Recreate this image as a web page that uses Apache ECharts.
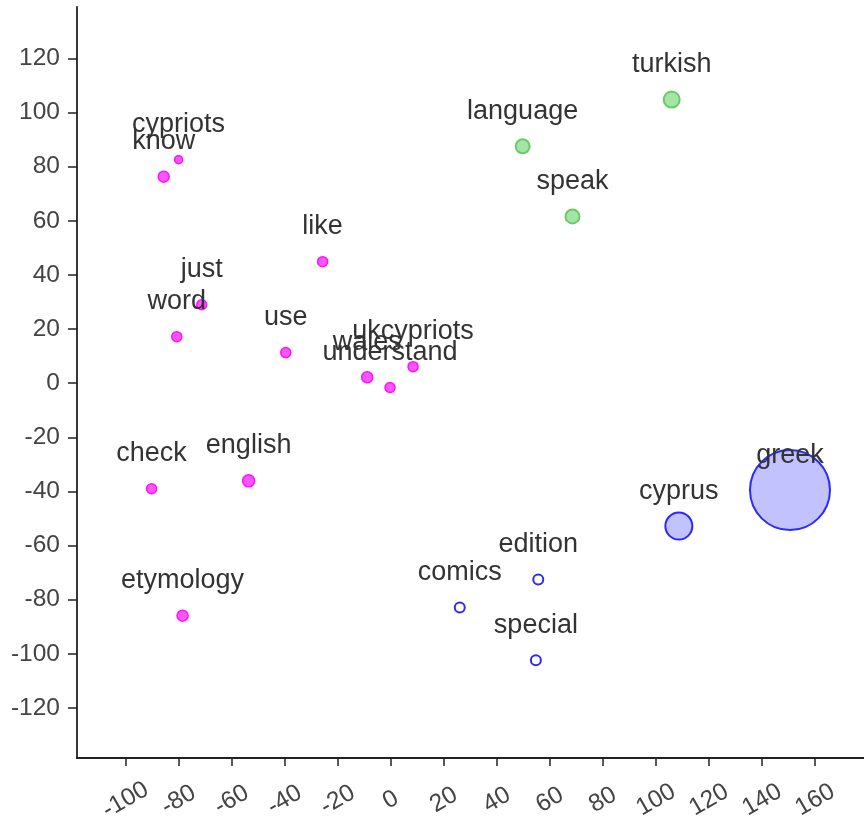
<!DOCTYPE html>
<html>
<head>
<meta charset="utf-8">
<script src="https://cdn.jsdelivr.net/npm/echarts@6/dist/echarts.min.js"></script>
<style>
  html, body { margin: 0; padding: 0; background: #fff; }
  #main { width: 864px; height: 819px; }
</style>
</head>
<body>
<div id="main"></div>
<script>
// word clusters
const pinkWords = ['cypriots', 'know', 'like', 'just', 'word', 'use', 'wales', 'understand', 'ukcypriots', 'check', 'english', 'etymology'];
const pinkX = [-80.0, -85.6, -25.7, -71.3, -80.7, -39.6, -8.9, -0.3, 8.4, -90.2, -53.6, -78.5];
const pinkY = [82.6, 76.3, 44.9, 29.0, 17.2, 11.3, 2.2, -1.6, 6.1, -39.0, -36.1, -85.9];
const pinkFreq = [4, 5.5, 5, 5, 5, 5, 5.5, 5, 5, 5, 6, 5.5];

const greenWords = ['turkish', 'language', 'speak'];
const greenX = [105.9, 49.7, 68.5];
const greenY = [104.8, 87.5, 61.6];
const greenFreq = [8, 7, 7];

const blueWords = ['greek', 'cyprus'];
const blueX = [150.5, 108.6];
const blueY = [-39.5, -52.8];
const blueFreq = [40, 13.5];

const blueSmallWords = ['edition', 'comics', 'special'];
const blueSmallX = [55.6, 26.0, 54.7];
const blueSmallY = [-72.5, -82.9, -102.4];
const blueSmallFreq = [5, 5, 5];

const xTicks = [-100, -80, -60, -40, -20, 0, 20, 40, 60, 80, 100, 120, 140, 160];
const yTicks = [-120, -100, -80, -60, -40, -20, 0, 20, 40, 60, 80, 100, 120];

function points(names, xs, ys, freq) {
    return names.map(function (n, i) {
        return { name: n, value: [xs[i], ys[i], freq[i]] };
    });
}

const labelStyle = {
    show: true,
    formatter: '{b}',
    position: 'inside',
    offset: [0, -35],
    fontSize: 27,
    color: '#333',
    fontFamily: 'Liberation Sans, Arial, sans-serif'
};

function makeSeries(data, fill, border, bw) {
    return {
        type: 'scatter',
        data: data,
        symbolSize: function (v) { return v[2] * 2; },
        itemStyle: { color: fill, borderColor: border, borderWidth: bw, opacity: 1 },
        label: labelStyle,
        emphasis: { disabled: true }
    };
}

let myChart = echarts.init(document.getElementById('main'));

let option = {
    animation: false,
    grid: { left: 77, top: 7, right: 0, bottom: 61, containLabel: false, outerBoundsMode: 'none' },
    xAxis: {
        type: 'value',
        min: -118.3,
        max: 178.4,
        splitLine: { show: false },
        axisLine: { onZero: false, lineStyle: { color: '#222', width: 1.8 } },
        axisTick: { show: true, length: 8, lineStyle: { color: '#222', width: 1.5 }, customValues: xTicks },
        axisLabel: {
            customValues: xTicks,
            rotate: 30,
            align: 'center',
            verticalAlign: 'middle',
            margin: 42,
            fontSize: 24.5,
            color: '#444',
            fontFamily: 'Liberation Sans, Arial, sans-serif'
        }
    },
    yAxis: {
        type: 'value',
        min: -138.5,
        max: 139,
        splitLine: { show: false },
        axisLine: { show: true, onZero: false, lineStyle: { color: '#222', width: 1.8 } },
        axisTick: { show: true, length: 9, lineStyle: { color: '#222', width: 1.5 }, customValues: yTicks },
        axisLabel: {
            customValues: yTicks,
            margin: 17,
            fontSize: 24.5,
            color: '#444',
            fontFamily: 'Liberation Sans, Arial, sans-serif'
        }
    },
    series: [
        makeSeries(points(pinkWords, pinkX, pinkY, pinkFreq), '#ff55ff', '#ff11ff', 1.5),
        makeSeries(points(greenWords, greenX, greenY, greenFreq), '#a6e3a6', '#66cc66', 2),
        makeSeries(points(blueWords, blueX, blueY, blueFreq), 'rgba(80,80,255,0.35)', '#2a2aff', 2),
        makeSeries(points(blueSmallWords, blueSmallX, blueSmallY, blueSmallFreq), '#ffffff', '#2a2aff', 2)
    ]
};
myChart.setOption(option);
</script>
</body>
</html>
